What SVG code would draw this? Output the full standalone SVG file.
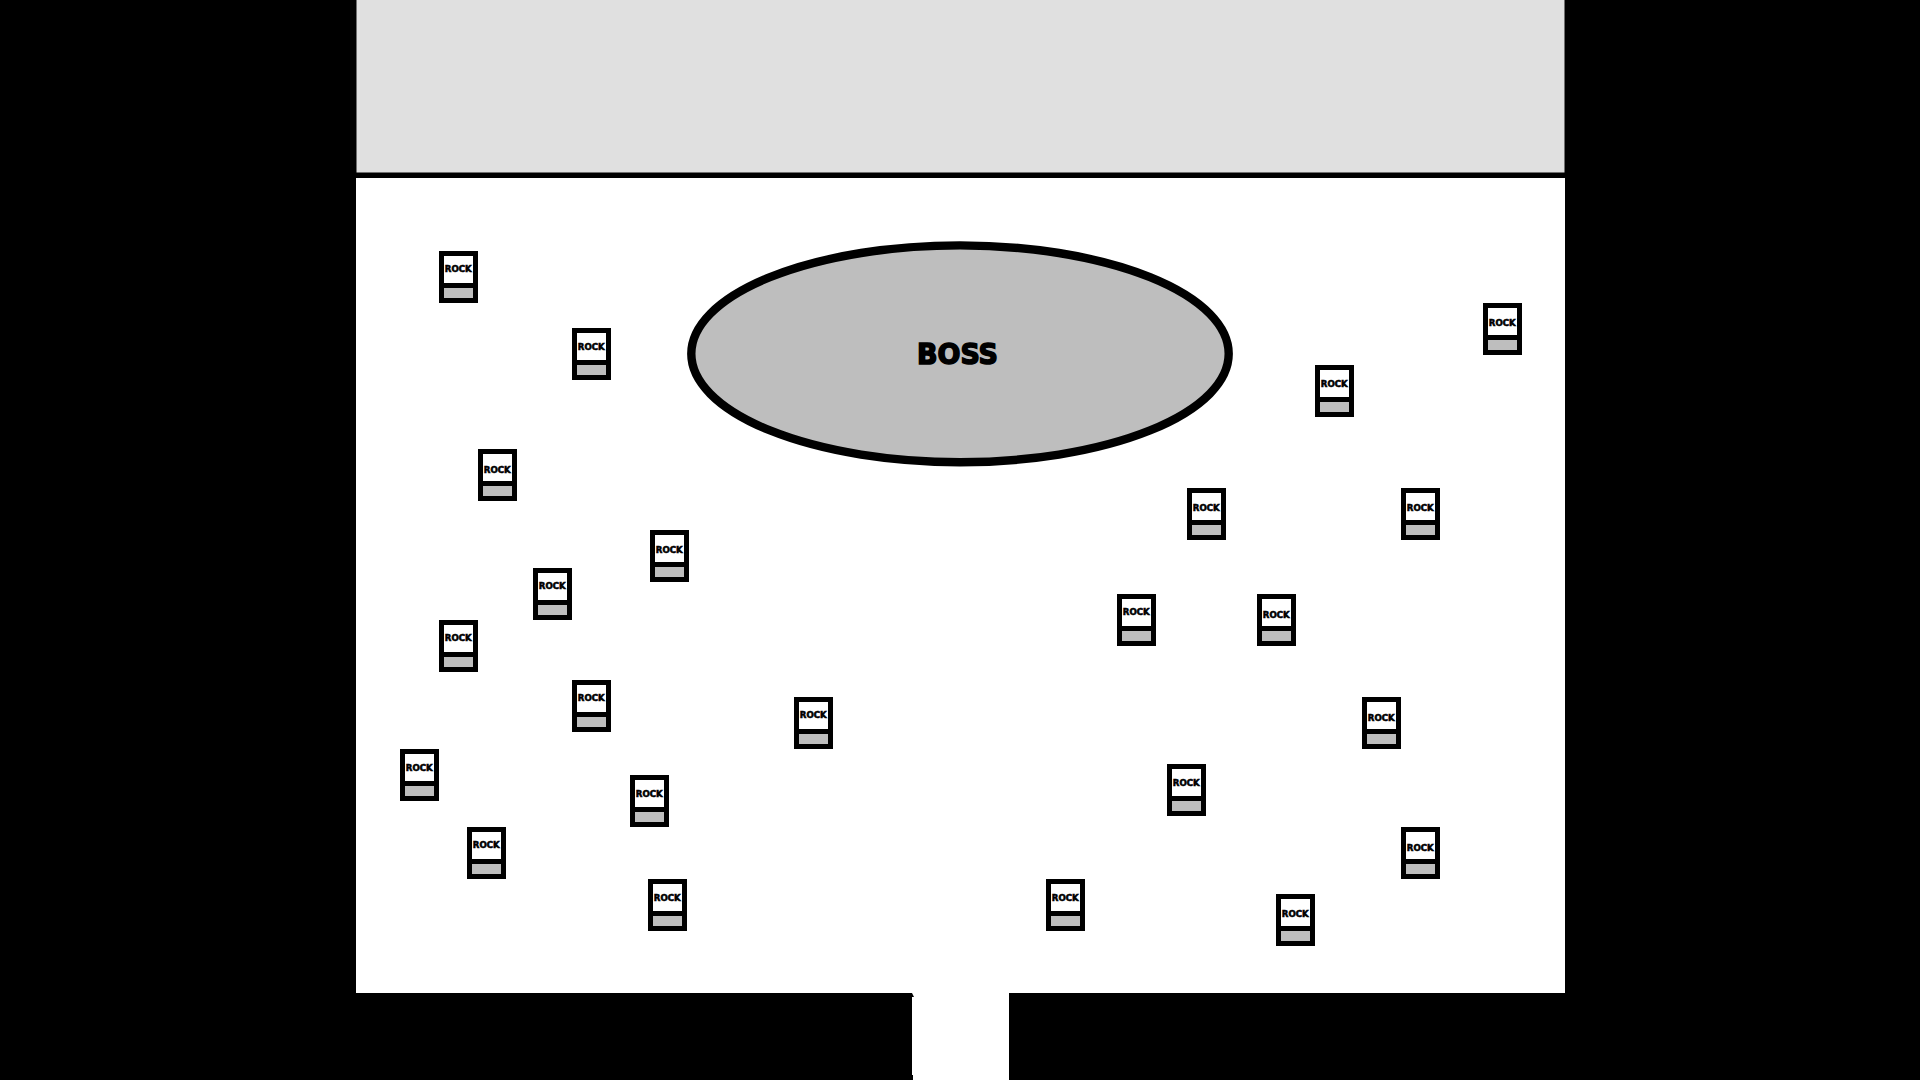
<svg xmlns="http://www.w3.org/2000/svg" width="1920" height="1080" viewBox="0 0 1920 1080">
<defs>
<style>
.rock-box{fill:#fff;stroke:#000;stroke-width:5}
.rock-bar{fill:#bebebe}
.rock-text{font-family:"DejaVu Sans",sans-serif;font-weight:700;font-size:8.600px;fill:#000;stroke:#000;stroke-width:.55;text-anchor:middle}
.boss-text{font-family:"DejaVu Sans",sans-serif;font-weight:700;font-size:28px;fill:#000;stroke:#000;stroke-width:1.6;text-anchor:middle}
</style>
<g id="rock-body">
<rect class="rock-box" x="-17" y="-23.500" width="34" height="47"/>
<rect x="-17" y="6" width="34" height="5"/>
<rect class="rock-bar" x="-14.500" y="11" width="29" height="10"/>
</g>
</defs>
<rect width="1920" height="1080" fill="#000"/>
<g id="top-band"><rect x="356.500" y="0" width="1208" height="172.500" fill="#e0e0e0"/></g>
<g id="floor"><path d="M356 178H1565V993H1009V1080H913V1075H912V997H914L912 993H356Z" fill="#fff"/></g>
<g id="boss"><ellipse cx="960" cy="353.800" rx="268.700" ry="108.400" fill="#bebebe" stroke="#000" stroke-width="8.400"/><text class="boss-text" x="957.500" y="364.200" textLength="81" lengthAdjust="spacingAndGlyphs">BOSS</text></g>
<g id="rocks">
<g id="rock-1" transform="translate(458.500 277)"><use href="#rock-body"/><text class="rock-text" x="-.3" y="-5">ROCK</text></g>
<g id="rock-2" transform="translate(591.500 354)"><use href="#rock-body"/><text class="rock-text" x="-.3" y="-4.200">ROCK</text></g>
<g id="rock-3" transform="translate(497.500 475)"><use href="#rock-body"/><text class="rock-text" x="-.3" y="-2">ROCK</text></g>
<g id="rock-4" transform="translate(669.500 556)"><use href="#rock-body"/><text class="rock-text" x="-.3" y="-3">ROCK</text></g>
<g id="rock-5" transform="translate(552.500 594)"><use href="#rock-body"/><text class="rock-text" x="-.3" y="-5">ROCK</text></g>
<g id="rock-6" transform="translate(458.500 646)"><use href="#rock-body"/><text class="rock-text" x="-.3" y="-5">ROCK</text></g>
<g id="rock-7" transform="translate(591.500 706)"><use href="#rock-body"/><text class="rock-text" x="-.3" y="-5.400">ROCK</text></g>
<g id="rock-8" transform="translate(813.500 723)"><use href="#rock-body"/><text class="rock-text" x="-.3" y="-5.400">ROCK</text></g>
<g id="rock-9" transform="translate(419.500 775)"><use href="#rock-body"/><text class="rock-text" x="-.3" y="-4.400">ROCK</text></g>
<g id="rock-10" transform="translate(649.500 801)"><use href="#rock-body"/><text class="rock-text" x="-.3" y="-4.400">ROCK</text></g>
<g id="rock-11" transform="translate(486.500 853)"><use href="#rock-body"/><text class="rock-text" x="-.3" y="-5">ROCK</text></g>
<g id="rock-12" transform="translate(667.500 905)"><use href="#rock-body"/><text class="rock-text" x="-.3" y="-4.400">ROCK</text></g>
<g id="rock-13" transform="translate(1065.500 905)"><use href="#rock-body"/><text class="rock-text" x="-.3" y="-4.400">ROCK</text></g>
<g id="rock-14" transform="translate(1295.500 920)"><use href="#rock-body"/><text class="rock-text" x="-.3" y="-3.400">ROCK</text></g>
<g id="rock-15" transform="translate(1420.500 853)"><use href="#rock-body"/><text class="rock-text" x="-.3" y="-2.400">ROCK</text></g>
<g id="rock-16" transform="translate(1186.500 790)"><use href="#rock-body"/><text class="rock-text" x="-.3" y="-4.400">ROCK</text></g>
<g id="rock-17" transform="translate(1381.500 723)"><use href="#rock-body"/><text class="rock-text" x="-.3" y="-2">ROCK</text></g>
<g id="rock-18" transform="translate(1136.500 620)"><use href="#rock-body"/><text class="rock-text" x="-.3" y="-5.400">ROCK</text></g>
<g id="rock-19" transform="translate(1276.500 620)"><use href="#rock-body"/><text class="rock-text" x="-.3" y="-2.400">ROCK</text></g>
<g id="rock-20" transform="translate(1206.500 514)"><use href="#rock-body"/><text class="rock-text" x="-.3" y="-3.400">ROCK</text></g>
<g id="rock-21" transform="translate(1420.500 514)"><use href="#rock-body"/><text class="rock-text" x="-.3" y="-3.400">ROCK</text></g>
<g id="rock-22" transform="translate(1334.500 391)"><use href="#rock-body"/><text class="rock-text" x="-.3" y="-4.400">ROCK</text></g>
<g id="rock-23" transform="translate(1502.500 329)"><use href="#rock-body"/><text class="rock-text" x="-.3" y="-3.400">ROCK</text></g>
</g>
</svg>
